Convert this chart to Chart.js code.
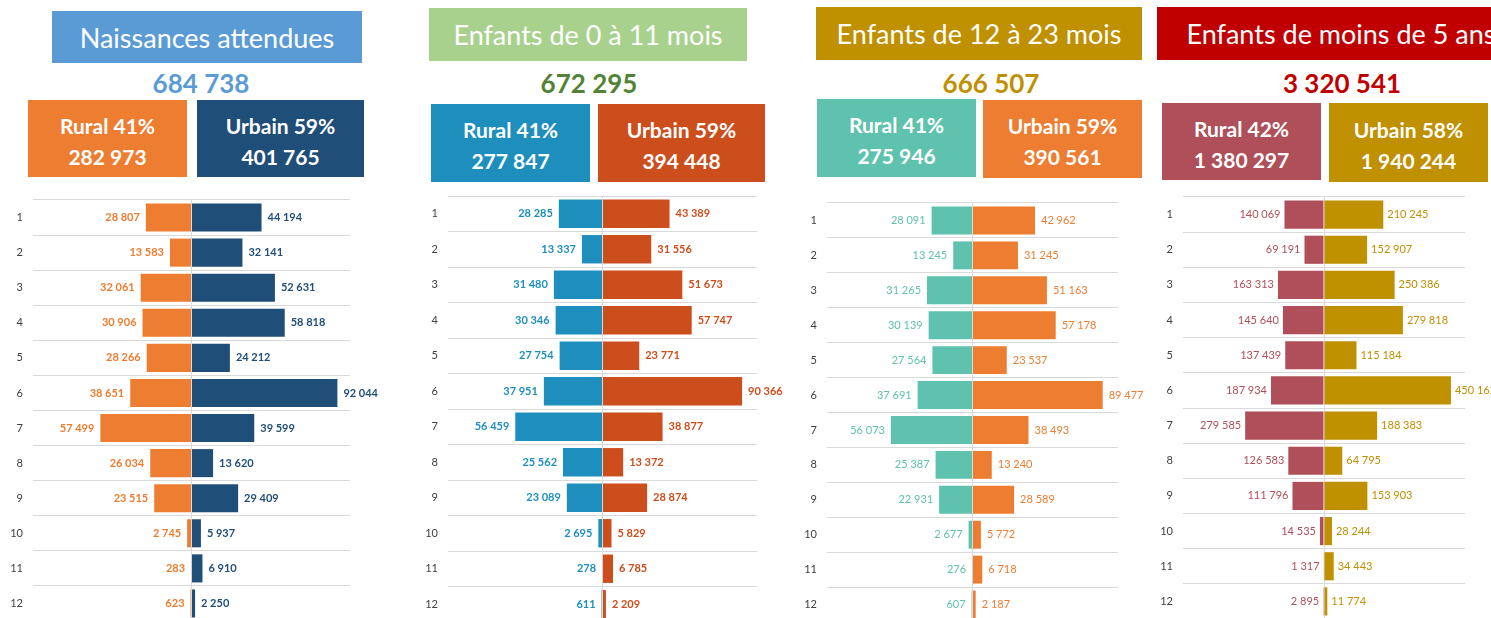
<!DOCTYPE html>
<html lang="fr">
<head>
<meta charset="utf-8">
<title>Populations cibles par région</title>
<script src="https://cdn.jsdelivr.net/npm/chart.js@4.4.0/dist/chart.umd.min.js"></script>
<style>
    body {
        margin: 0;
        width: 1491px;
        height: 618px;
        overflow: hidden;
        background: #fff;
        position: relative;
        font-family: Lato, 'Open Sans', sans-serif;
    }
    .box {
        position: absolute;
        display: flex;
        flex-direction: column;
        align-items: center;
        justify-content: center;
        color: #fff;
        white-space: nowrap;
        overflow: hidden;
        box-sizing: border-box;
    }
    .title-box { font-size: 27px; }
    .split-box { font-size: 21px; font-weight: bold; line-height: 31px; padding-top: 4px; }
    .total {
        position: absolute;
        font-size: 26px;
        font-weight: bold;
        line-height: 30px;
        white-space: nowrap;
        transform: translateX(-50%);
    }
    .panel { position: absolute; }
</style>
</head>
<body>
<script>
// Regions (rows of each pyramid)
const regions = ['1', '2', '3', '4', '5', '6', '7', '8', '9', '10', '11', '12'];

// Naissances attendues
const naissancesRural = [28807, 13583, 32061, 30906, 28266, 38651, 57499, 26034, 23515, 2745, 283, 623];
const naissancesUrbain = [44194, 32141, 52631, 58818, 24212, 92044, 39599, 13620, 29409, 5937, 6910, 2250];

// Enfants de 0 à 11 mois
const enfants0a11Rural = [28285, 13337, 31480, 30346, 27754, 37951, 56459, 25562, 23089, 2695, 278, 611];
const enfants0a11Urbain = [43389, 31556, 51673, 57747, 23771, 90366, 38877, 13372, 28874, 5829, 6785, 2209];

// Enfants de 12 à 23 mois
const enfants12a23Rural = [28091, 13245, 31265, 30139, 27564, 37691, 56073, 25387, 22931, 2677, 276, 607];
const enfants12a23Urbain = [42962, 31245, 51163, 57178, 23537, 89477, 38493, 13240, 28589, 5772, 6718, 2187];

// Enfants de moins de 5 ans
const moins5Rural = [140069, 69191, 163313, 145640, 137439, 187934, 279585, 126583, 111796, 14535, 1317, 2895];
const moins5Urbain = [210245, 152907, 250386, 279818, 115184, 450162, 188383, 64795, 153903, 28244, 34443, 11774];

// Header texts
const panelTitles = ['Naissances attendues', 'Enfants de 0 à 11 mois', 'Enfants de 12 à 23 mois', 'Enfants de moins de 5 ans'];
const panelTotals = ['684 738', '672 295', '666 507', '3 320 541'];
const ruralShares = ['41%', '41%', '41%', '42%'];
const urbanShares = ['59%', '59%', '59%', '58%'];
const ruralTotals = ['282 973', '277 847', '275 946', '1 380 297'];
const urbanTotals = ['401 765', '394 448', '390 561', '1 940 244'];

// Half-width of each value axis
const axisLimits = [100000, 100000, 100000, 500000];

const ruralSeries = [naissancesRural, enfants0a11Rural, enfants12a23Rural, moins5Rural];
const urbanSeries = [naissancesUrbain, enfants0a11Urbain, enfants12a23Urbain, moins5Urbain];

// Layout and colours of the four panels
const panels = [
    {
        titleBox: [52, 11, 310, 52], titleColor: '#5B9BD5',
        totalX: 201, totalColor: '#5B9BD5',
        ruralBox: [28, 100, 159, 77], urbanBox: [197, 100, 167, 77],
        ruralColor: '#ED7D31', urbanColor: '#1F4E79',
        plot: [33, 200, 350, 621], padRight: 45, labelFont: 'bold 11px Lato', labelGap: 6
    },
    {
        titleBox: [429, 8, 318, 53], titleColor: '#A9D18E',
        totalX: 589, totalColor: '#548235',
        ruralBox: [431, 104, 159, 78], urbanBox: [598, 104, 167, 78],
        ruralColor: '#1E8FBD', urbanColor: '#CD4E1D',
        plot: [448, 196, 757, 622], padRight: 35, labelFont: 'bold 11px Lato', labelGap: 6
    },
    {
        titleBox: [816, 7, 326, 53], titleColor: '#BF9000',
        totalX: 991, totalColor: '#BF9000',
        ruralBox: [817, 99, 159, 78], urbanBox: [983, 100, 159, 78],
        ruralColor: '#5FC2AE', urbanColor: '#ED7D31',
        plot: [827, 203, 1118, 622], padRight: 30, labelFont: '11px Lato', labelGap: 6
    },
    {
        titleBox: [1157, 7, 368, 53], titleColor: '#C00000',
        totalX: 1342, totalColor: '#C00000',
        ruralBox: [1162, 103, 159, 77], urbanBox: [1329, 103, 159, 79],
        ruralColor: '#AF4F5A', urbanColor: '#BF9000',
        plot: [1183, 197, 1465, 619], padRight: 26, labelFont: '11px Lato', labelGap: 4
    }
];

/**
 * Format a number with a space as thousands separator
 */
function formatNumber(value) {
    return String(Math.round(value)).replace(/\B(?=(\d{3})+(?!\d))/g, ' ');
}

/**
 * Draws the value next to the end of every bar
 */
const barLabels = {
    id: 'barLabels',
    afterDatasetsDraw(chart, args, opts) {
        const ctx = chart.ctx;
        chart.data.datasets.forEach((dataset, i) => {
            const meta = chart.getDatasetMeta(i);
            meta.data.forEach((bar, j) => {
                const value = dataset.data[j];
                const text = formatNumber(Math.abs(value));
                ctx.save();
                ctx.font = opts.font;
                ctx.fillStyle = dataset.backgroundColor;
                ctx.textBaseline = 'middle';
                if (value < 0) {
                    ctx.textAlign = 'right';
                    ctx.fillText(text, bar.x - opts.gap, bar.y);
                } else {
                    ctx.textAlign = 'left';
                    ctx.fillText(text, bar.x + opts.gap, bar.y);
                }
                ctx.restore();
            });
        });
    }
};

document.addEventListener('DOMContentLoaded', function() {
    Chart.defaults.font.family = 'Lato';

    panels.forEach((panel, index) => {
        drawHeader(panel, index);
        drawPyramid(panel, index);
    });
});

/**
 * Place a coloured box with text lines
 */
function addBox(rect, color, lines, className) {
    const box = document.createElement('div');
    box.className = 'box ' + className;
    box.style.left = rect[0] + 'px';
    box.style.top = rect[1] + 'px';
    box.style.width = rect[2] + 'px';
    box.style.height = rect[3] + 'px';
    box.style.background = color;
    lines.forEach(line => {
        const span = document.createElement('div');
        span.textContent = line;
        box.appendChild(span);
    });
    document.body.appendChild(box);
}

/**
 * Title, total and rural / urban boxes of a panel
 */
function drawHeader(panel, index) {
    addBox(panel.titleBox, panel.titleColor, [panelTitles[index]], 'title-box');

    const total = document.createElement('div');
    total.className = 'total';
    total.style.left = panel.totalX + 'px';
    total.style.top = '68px';
    total.style.color = panel.totalColor;
    total.textContent = panelTotals[index];
    document.body.appendChild(total);

    addBox(panel.ruralBox, panel.ruralColor, ['Rural ' + ruralShares[index], ruralTotals[index]], 'split-box');
    addBox(panel.urbanBox, panel.urbanColor, ['Urbain ' + urbanShares[index], urbanTotals[index]], 'split-box');
}

/**
 * Rural / urban pyramid of a panel
 */
function drawPyramid(panel, index) {
    const yAxisWidth = 30;
    const padTop = 2;
    const [left, top, right, bottom] = panel.plot;
    const limit = axisLimits[index];

    const wrap = document.createElement('div');
    wrap.className = 'panel';
    wrap.style.left = (left - yAxisWidth) + 'px';
    wrap.style.top = (top - padTop) + 'px';

    const canvas = document.createElement('canvas');
    canvas.width = yAxisWidth + (right - left) + panel.padRight;
    canvas.height = padTop + (bottom - top) + 2;
    wrap.appendChild(canvas);
    document.body.appendChild(wrap);

    new Chart(canvas, {
        type: 'bar',
        data: {
            labels: regions,
            datasets: [{
                label: 'Rural',
                data: ruralSeries[index].map(v => -v),
                backgroundColor: panel.ruralColor
            }, {
                label: 'Urbain',
                data: urbanSeries[index],
                backgroundColor: panel.urbanColor
            }]
        },
        options: {
            indexAxis: 'y',
            responsive: false,
            animation: false,
            layout: {
                padding: { top: padTop, right: panel.padRight, bottom: 2, left: 0 }
            },
            datasets: {
                bar: { barPercentage: 0.8, categoryPercentage: 1 }
            },
            plugins: {
                legend: { display: false },
                tooltip: { enabled: false },
                barLabels: { font: panel.labelFont, gap: panel.labelGap }
            },
            scales: {
                x: {
                    stacked: true,
                    min: -limit,
                    max: limit,
                    ticks: { display: false },
                    grid: {
                        drawTicks: false,
                        color: c => (c.tick && c.tick.value === 0) ? '#D9D9D9' : 'rgba(0,0,0,0)'
                    },
                    border: { display: false },
                    afterFit: scale => {
                        scale.height = 0;
                        scale.paddingLeft = 0;
                        scale.paddingRight = 0;
                    }
                },
                y: {
                    stacked: true,
                    ticks: { color: '#404040', font: { size: 11 }, padding: 10 },
                    grid: { color: '#D9D9D9', drawTicks: false },
                    border: { display: false },
                    afterFit: scale => {
                        scale.width = yAxisWidth;
                        scale.paddingTop = 0;
                        scale.paddingBottom = 0;
                    }
                }
            }
        },
        plugins: [barLabels]
    });
}
</script>
</body>
</html>
